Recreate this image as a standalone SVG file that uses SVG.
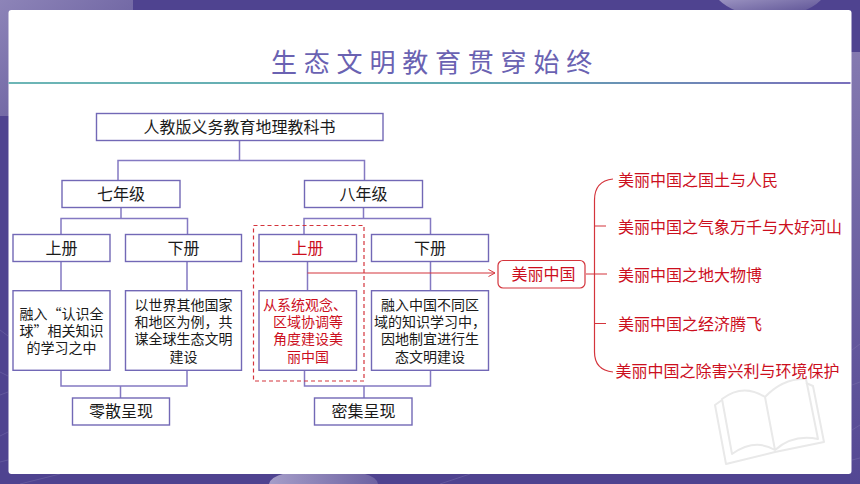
<svg xmlns="http://www.w3.org/2000/svg" width="860" height="484" viewBox="0 0 860 484">
<defs>
<linearGradient id="tl" x1="0" y1="0" x2="1" y2="1"><stop offset="0" stop-color="#8d84b8"/><stop offset="1" stop-color="#5d5296"/></linearGradient>
<linearGradient id="tr" x1="0" y1="0" x2="1" y2="1"><stop offset="0" stop-color="#9a92c0"/><stop offset="1" stop-color="#54498f"/></linearGradient>
<linearGradient id="rs" x1="0" y1="0" x2="0" y2="1"><stop offset="0" stop-color="#8479b0"/><stop offset="1" stop-color="#534793"/></linearGradient>
<linearGradient id="bc" x1="0" y1="0" x2="1" y2="0"><stop offset="0" stop-color="#a59dc8"/><stop offset="1" stop-color="#6d62a2"/></linearGradient>
<linearGradient id="rule" x1="0" y1="0" x2="1" y2="0"><stop offset="0" stop-color="#6db6b6"/><stop offset="0.55" stop-color="#5fa8b0"/><stop offset="1" stop-color="#7a70bc"/></linearGradient>
<marker id="arr" markerWidth="9" markerHeight="10" refX="7.5" refY="4" orient="auto" markerUnits="userSpaceOnUse"><path d="M1 0.5L7.5 4L1 7.5" fill="none" stroke="#d4343c" stroke-width="1"/></marker>
</defs>
<style>
text{font-family:"Noto Sans CJK SC","Noto Sans",sans-serif;text-anchor:middle;fill:#1a1a1a}
.box{fill:#fff;stroke:#7268b6;stroke-width:1.4}
.lb{font-size:16px}
.ct{font-size:14px}
.red{fill:#cc0f1e}
.rt{fill:#cc0f1e;font-size:16px;text-anchor:start}
.con{fill:none;stroke:#8479c2;stroke-width:1.5}
.rl{fill:none;stroke:#d4343c;stroke-width:1.2}
.web{stroke:#8c84b8;stroke-width:.6;fill:none;opacity:.55}
</style>
<g id="background">
<rect width="860" height="484" fill="#4f4390"/>
<rect width="133" height="116" fill="url(#tl)"/>
<path d="M719 0H821Q805 16 770 16Q735 16 719 0Z" fill="url(#tr)"/>
<rect x="850" y="52" width="10" height="432" fill="url(#rs)"/>
<path d="M269 484Q272 470 324 470Q376 470 378 484Z" fill="url(#bc)"/>
<path class="web" d="M0 330L8 336M0 372L8 376M0 395L8 392M0 436L8 432M0 462L8 460M852 350L860 344M852 385L860 382M852 430L860 425M852 460L860 458M20 484L60 474M440 484L470 474"/>
</g>
<rect id="panel" x="8.5" y="10" width="843" height="464" rx="3" fill="#fff"/>
<rect id="title-rule" x="8.5" y="82" width="842" height="2" fill="url(#rule)"/>
<text id="title" x="435" y="72" style="font-size:26px;letter-spacing:6.8px;fill:#6a62b2">生态文明教育贯穿始终</text>
<g id="watermark" fill="none" stroke="#e9e9e9" stroke-width="2" stroke-linejoin="round">
<path d="M722 400L715 405L726 464L775 452L824 442L813 386L806 383"/>
<path d="M722 399Q743 383 765 397L775 450Q755 438 732 454Z"/>
<path d="M765 397Q783 378 806 379L818 439Q793 434 775 450"/>
</g>
<g id="connectors">
<path class="con" d="M239.500 140V160.500M118 180.500V160.500H364.500V180.500"/>
<path class="con" d="M121 207.500V218.500M61 234.500V218.500H187.500V234.500"/>
<path class="con" d="M363.500 207.500V218.500M304 234.500V218.500H430.500V234.500"/>
<path class="con" d="M61 261.500V291M187 261.500V291M307.500 261.500V291M430.500 261.500V291"/>
<path class="con" d="M61 370V386H187V370M120.500 386V398"/>
<path class="con" d="M304.500 370V386H430.500V370M364 386V398"/>
<path class="rl" marker-end="url(#arr)" d="M307.500 273H495"/>
<path class="rl" d="M613 179Q594.500 181 594.500 200V352Q594.500 370 613 372M594.500 226H606M586 274H607M594.500 323.500H606"/>
</g>
<g id="top"><rect class="box" x="96.500" y="113.500" width="286.500" height="27"/><text class="lb" x="239.500" y="132.500">人教版义务教育地理教科书</text></g>
<g id="grade7"><rect class="box" x="62" y="180.500" width="118" height="27"/><text class="lb" x="121" y="199.500">七年级</text></g>
<g id="grade8"><rect class="box" x="304.500" y="180.500" width="118" height="27"/><text class="lb" x="363.500" y="199.500">八年级</text></g>
<g id="g7-up"><rect class="box" x="13" y="234.500" width="97" height="27"/><text class="lb" x="61.500" y="253.500">上册</text></g>
<g id="g7-down"><rect class="box" x="125.500" y="234.500" width="116" height="27"/><text class="lb" x="183.500" y="253.500">下册</text></g>
<g id="g8-up"><rect class="box" x="259" y="234.500" width="97.500" height="27"/><text class="lb red" x="307.500" y="253.500">上册</text></g>
<g id="g8-down"><rect class="box" x="371.500" y="234.500" width="117" height="27"/><text class="lb" x="430" y="253.500">下册</text></g>
<g id="c1"><rect class="box" x="13" y="290.700" width="97" height="79.600"/><text class="ct" x="61.500" y="318.500">融入“认识全</text><text class="ct" x="61.500" y="336">球”相关知识</text><text class="ct" x="61.500" y="353">的学习之中</text></g>
<g id="c2"><rect class="box" x="125.500" y="290.700" width="116" height="79.600"/><text class="ct" x="183.500" y="309.500">以世界其他国家</text><text class="ct" x="183.500" y="327">和地区为例，共</text><text class="ct" x="183.500" y="344">谋全球生态文明</text><text class="ct" x="183.500" y="361.500">建设</text></g>
<g id="c3"><rect class="box" x="259" y="290.700" width="97.500" height="79.600"/><text class="ct red" x="305" y="309.500">从系统观念、</text><text class="ct red" x="308" y="327">区域协调等</text><text class="ct red" x="308" y="344">角度建设美</text><text class="ct red" x="308" y="361.500">丽中国</text></g>
<g id="c4"><rect class="box" x="371.500" y="290.700" width="117" height="79.600"/><text class="ct" x="430" y="309.500">融入中国不同区</text><text class="ct" x="430" y="327">域的知识学习中，</text><text class="ct" x="430" y="344">因地制宜进行生</text><text class="ct" x="430" y="361.500">态文明建设</text></g>
<g id="scattered"><rect class="box" x="72.500" y="398" width="97" height="27"/><text class="lb" x="121" y="417">零散呈现</text></g>
<g id="dense"><rect class="box" x="314.500" y="398" width="97.500" height="27"/><text class="lb" x="363.500" y="417">密集呈现</text></g>
<rect id="highlight" x="253.500" y="225.500" width="110.500" height="155.500" fill="none" stroke="#d4343c" stroke-width="1.2" stroke-dasharray="4 3"/>
<g id="beautiful-china"><rect x="498" y="260.500" width="87" height="27.500" rx="5" fill="#fff" stroke="#d4343c" stroke-width="1.2"/><text class="lb red" x="543.500" y="280">美丽中国</text></g>
<g id="items">
<text class="rt" x="618" y="185.500">美丽中国之国土与人民</text>
<text class="rt" x="618" y="233">美丽中国之气象万千与大好河山</text>
<text class="rt" x="618" y="281">美丽中国之地大物博</text>
<text class="rt" x="618" y="329.500">美丽中国之经济腾飞</text>
<text class="rt" x="615.500" y="377">美丽中国之除害兴利与环境保护</text>
</g>
</svg>
